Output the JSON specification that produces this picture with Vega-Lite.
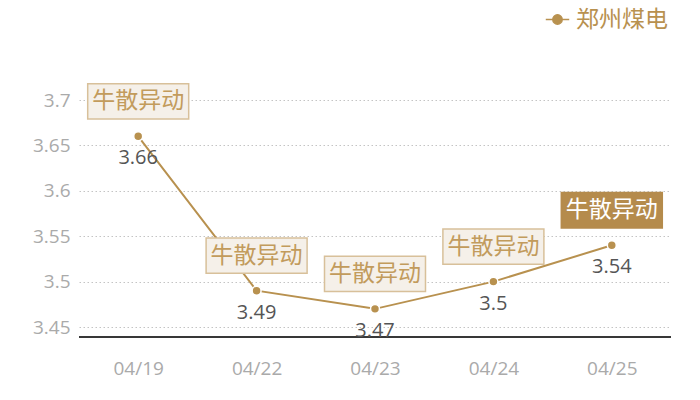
{
  "$schema": "https://vega.github.io/schema/vega-lite/v6.json",
  "autosize": "none",
  "width": 592,
  "height": 237,
  "padding": {"left": 79, "top": 100, "right": 29, "bottom": 63},
  "background": "white",
  "config": {
    "view": {"stroke": null},
    "font": "Noto Sans CJK SC"
  },
  "data": {
    "values": [
      {"date": "04/19", "price": 3.66, "note": "牛散异动", "latest": false, "series": "郑州煤电"},
      {"date": "04/22", "price": 3.49, "note": "牛散异动", "latest": false, "series": "郑州煤电"},
      {"date": "04/23", "price": 3.47, "note": "牛散异动", "latest": false, "series": "郑州煤电"},
      {"date": "04/24", "price": 3.5, "note": "牛散异动", "latest": false, "series": "郑州煤电"},
      {"date": "04/25", "price": 3.54, "note": "牛散异动", "latest": true, "series": "郑州煤电"}
    ]
  },
  "encoding": {
    "x": {
      "field": "date",
      "type": "ordinal",
      "scale": {"type": "point", "padding": 0.5},
      "axis": {
        "title": null,
        "domain": false,
        "ticks": false,
        "labelAngle": 0,
        "labelColor": "#aaaaaa",
        "labelFontSize": 19,
        "labelPadding": 22,
        "labelFont": "Open Sans"
      }
    },
    "y": {
      "field": "price",
      "type": "quantitative",
      "scale": {"domain": [3.439, 3.7], "nice": false, "zero": false},
      "axis": {
        "title": null,
        "values": [3.45, 3.5, 3.55, 3.6, 3.65, 3.7],
        "format": "~g",
        "domain": false,
        "ticks": false,
        "labelColor": "#aaaaaa",
        "labelFontSize": 19,
        "labelPadding": 9,
        "labelFont": "Open Sans",
        "gridColor": "#c4c4c4",
        "gridDash": [1.5, 2.5],
        "gridWidth": 1
      }
    }
  },
  "layer": [
    {
      "mark": {"type": "rule", "color": "#333333", "strokeWidth": 1},
      "encoding": {"x": null, "y": {"datum": 3.439}}
    },
    {
      "mark": {"type": "line", "strokeWidth": 2},
      "encoding": {
        "color": {
          "field": "series",
          "type": "nominal",
          "scale": {"range": ["#b8914f"]},
          "legend": {
            "title": null,
            "orient": "none",
            "legendX": 466,
            "legendY": -93,
            "symbolType": "M-1,0L-0.4,0M0.4,0L1,0M-0.4,0A0.4,0.4 0 1,1 0.4,0A0.4,0.4 0 1,1 -0.4,0",
            "symbolSize": 550,
            "symbolStrokeWidth": 1.5,
            "symbolFillColor": "#b8914f",
            "labelColor": "#b8914f",
            "labelFontSize": 23,
            "labelOffset": 6,
            "labelLimit": 200,
            "labelFont": "Noto Sans CJK SC"
          }
        }
      }
    },
    {
      "mark": {"type": "point", "filled": true, "size": 80, "color": "#b8914f", "stroke": "white", "strokeWidth": 1.5, "opacity": 1}
    },
    {
      "mark": {"type": "text", "dy": 22, "fontSize": 20, "color": "#555555", "font": "Open Sans"},
      "encoding": {"text": {"field": "price", "type": "quantitative"}}
    },
    {
      "mark": {
        "type": "point",
        "shape": "M-1,-0.35L1,-0.35L1,0.35L-1,0.35Z",
        "size": 10200,
        "yOffset": -35,
        "strokeWidth": 1.5,
        "opacity": 1,
        "filled": false
      },
      "encoding": {
        "fill": {
          "condition": {"test": "datum.latest", "value": "#b58b4c"},
          "value": "#f5f0e9"
        },
        "stroke": {
          "condition": {"test": "datum.latest", "value": "#b58b4c"},
          "value": "#d8c09a"
        }
      }
    },
    {
      "mark": {"type": "text", "fontSize": 23, "yOffset": -35, "baseline": "middle", "font": "Noto Sans CJK SC"},
      "encoding": {
        "text": {"field": "note"},
        "color": {
          "condition": {"test": "datum.latest", "value": "#ffffff"},
          "value": "#c29b5c"
        }
      }
    }
  ]
}
